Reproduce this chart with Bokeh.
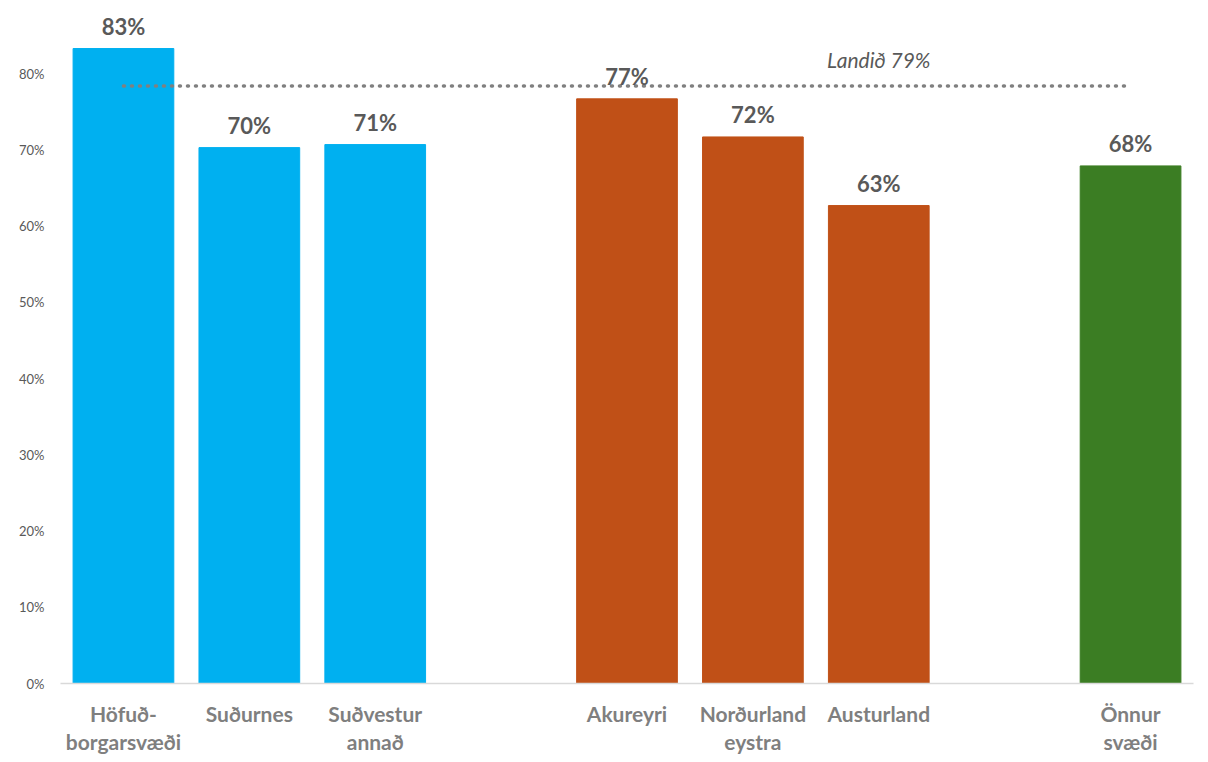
from bokeh.plotting import figure
from bokeh.models import FactorRange, Range1d, ColumnDataSource, LabelSet, FixedTicker, NumeralTickFormatter
from bokeh.embed import file_html
from bokeh.resources import INLINE
from bokeh.core.properties import value

# ---- data ----
categories = ["Höfuð-\nborgarsvæði", "Suðurnes", "Suðvestur\nannað",
              "Akureyri", "Norðurland\neystra", "Austurland",
              "Önnur\nsvæði"]
values = [0.833, 0.703, 0.707, 0.767, 0.717, 0.627, 0.679]
labels = ["83%", "70%", "71%", "77%", "72%", "63%", "68%"]
colors = ["#00B0F0", "#00B0F0", "#00B0F0",
          "#C05017", "#C05017", "#C05017",
          "#3B7D23"]
landid_value = 0.784
landid_label = "Landið 79%"
y_ticks = [0, 0.1, 0.2, 0.3, 0.4, 0.5, 0.6, 0.7, 0.8]

# factor range with two blank gap slots between the groups
factors = categories[:3] + [" "] + categories[3:6] + ["  "] + categories[6:]

FONT = "Lato"

p = figure(width=1200, height=760, output_backend="svg", toolbar_location=None,
           x_range=FactorRange(factors=factors, range_padding=0),
           y_range=Range1d(0, 0.896),
           min_border_left=60, min_border_right=7, min_border_top=0,
           min_border_bottom=77)
p.outline_line_color = None
p.xgrid.grid_line_color = None
p.ygrid.grid_line_color = None
p.background_fill_color = "white"
p.border_fill_color = "white"

src = ColumnDataSource(dict(x=categories, top=values, color=colors, label=labels))
p.vbar(x="x", top="top", width=0.8, color="color", source=src)

# national average dotted line
p.line(x=[categories[0], categories[-1]], y=[landid_value, landid_value],
       line_color="#808080", line_width=3.5, line_dash="1 7", line_cap="round")

lsrc = ColumnDataSource(dict(x=["Austurland"], y=[landid_value], t=[landid_label]))
p.text(x="x", y="y", text="t", source=lsrc, y_offset=-14,
       text_align="center", text_baseline="bottom",
       text_font=value(FONT), text_font_style="italic",
       text_font_size="21px", text_color="#595959")

p.add_layout(LabelSet(x="x", y="top", text="label", source=src, y_offset=9,
                      text_align="center", text_baseline="bottom",
                      text_font=value(FONT), text_font_style="bold",
                      text_font_size="22px", text_color="#595959"))

# y axis
p.yaxis.ticker = FixedTicker(ticks=y_ticks)
p.yaxis.formatter = NumeralTickFormatter(format="0%")
p.yaxis.axis_line_color = None
p.yaxis.major_tick_line_color = None
p.yaxis.minor_tick_line_color = None
p.yaxis.major_label_standoff = 10
p.yaxis.major_label_text_font = FONT
p.yaxis.major_label_text_font_size = "13px"
p.yaxis.major_label_text_color = "#595959"

# x axis
p.xaxis.axis_line_color = "#d9d9d9"
p.xaxis.axis_line_width = 1.5
p.xaxis.major_tick_line_color = None
p.xaxis.minor_tick_line_color = None
p.xaxis.major_label_standoff = 11
p.xaxis.major_label_text_font = FONT
p.xaxis.major_label_text_font_style = "bold"
p.xaxis.major_label_text_font_size = "21px"
p.xaxis.major_label_text_color = "#7f7f7f"
p.xaxis.major_label_text_line_height = 1.12

open("out.html", "w").write(file_html(p, INLINE))
